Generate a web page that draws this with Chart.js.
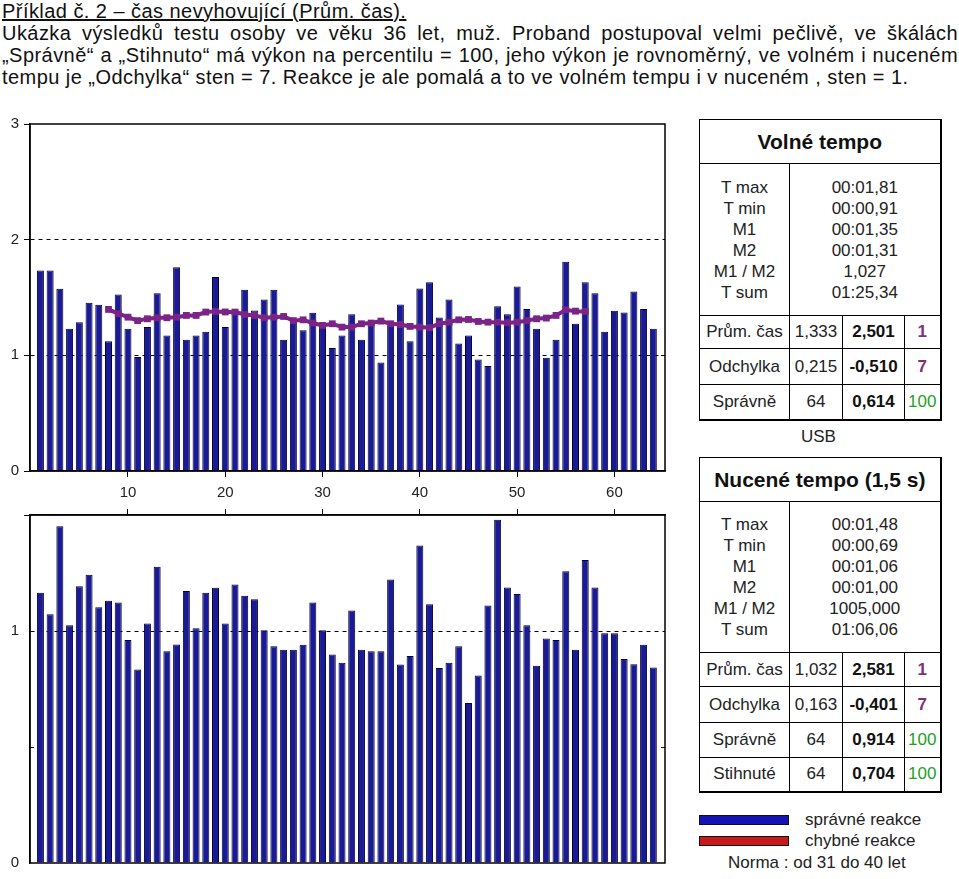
<!DOCTYPE html>
<html lang="cs">
<head>
<meta charset="utf-8">
<script src="https://cdn.jsdelivr.net/npm/chart.js@4/dist/chart.umd.min.js"></script>
<style>
  body { margin: 0; background: #fff; font-family: "Liberation Sans", Arial, sans-serif; color: #111; }
  #page { position: relative; width: 959px; height: 879px; overflow: hidden; }
  #intro { position: absolute; left: 2px; top: 0; width: 956px; font-size: 20px; line-height: 22px; letter-spacing: 0.45px; }
  #intro div { white-space: nowrap; }
  #intro .u { text-decoration: underline; }
  canvas { position: absolute; left: 0; }
  table.res { position: absolute; left: 699px; width: 241px; border-collapse: collapse; table-layout: fixed;
    font-size: 17px; color: #222; border-right: 2px solid #000; border-bottom: 2px solid #000; }
  table.res td { border: 1px solid #000; text-align: center; padding: 0; }
  table.res td.head { font-weight: bold; font-size: 21px; color: #111; }
  table.res td.stats { line-height: 21px; }
  table.res .b { font-weight: bold; color: #111; }
  table.res .st { font-weight: bold; color: #803078; }
  table.res .pc { color: #23a023; }
  .note { position: absolute; font-size: 17px; color: #222; }
  .sw { position: absolute; left: 699px; width: 88px; height: 8px; border: 1px solid #111; }
</style>
</head>
<body>
<div id="page">
  <div id="intro">
    <div class="u">Příklad č. 2 – čas nevyhovující (Prům. čas).</div>
    <div class="just"><span>Ukázka výsledků testu osoby ve věku 36 let, muž. Proband postupoval velmi pečlivě, ve škálách</span></div>
    <div class="just"><span>„Správně“ a „Stihnuto“ má výkon na percentilu = 100, jeho výkon je rovnoměrný, ve volném i nuceném</span></div>
    <div>tempu je „Odchylka“ sten = 7. Reakce je ale pomalá a to ve volném tempu i v nuceném , sten = 1.</div>
  </div>

  <canvas id="free-chart" width="690" height="390" style="top:110px"></canvas>
  <canvas id="forced-chart" width="690" height="379" style="top:500px"></canvas>

  <table class="res" id="free-table" style="top:119px"></table>
  <div class="note" style="left:801px; top:427px;">USB</div>
  <table class="res" id="forced-table" style="top:457px"></table>

  <div class="sw" style="top:815px; background:#1414b4;"></div>
  <div class="sw" style="top:836px; background:#c81a1a;"></div>
  <div class="note" style="left:805px; top:810px;">správné reakce</div>
  <div class="note" style="left:805px; top:831px;">chybné reakce</div>
  <div class="note" style="left:728px; top:853px;">Norma : od 31 do 40 let</div>
</div>

<script>
// reaction times (s), one per trial
const trials = Array.from({ length: 64 }, (_, i) => i + 1);

const freeTimes = [
  1.733, 1.733, 1.575, 1.23, 1.287, 1.454, 1.437, 1.121, 1.526, 1.23,
  0.986, 1.244, 1.537, 1.172, 1.761, 1.135, 1.172, 1.204, 1.678, 1.244,
  1.397, 1.566, 1.388, 1.483, 1.566, 1.135, 1.302, 1.216, 1.368, 1.273,
  1.063, 1.172, 1.356, 1.135, 1.273, 0.937, 1.259, 1.44, 1.121, 1.578,
  1.632, 1.328, 1.483, 1.103, 1.172, 0.963, 0.908, 1.425, 1.356, 1.595,
  1.4, 1.23, 0.98, 1.135, 1.81, 1.273, 1.632, 1.537, 1.204, 1.385,
  1.371, 1.552, 1.4, 1.23,
];

// running average drawn over the free tempo bars (trials 8..57)
const freeTrend = [
  null, null, null, null, null, null, null, 1.397, 1.36, 1.33,
  1.3, 1.316, 1.325, 1.325, 1.33, 1.345, 1.345, 1.374, 1.38, 1.375,
  1.374, 1.353, 1.345, 1.325, 1.33, 1.336, 1.3, 1.307, 1.279, 1.259,
  1.273, 1.244, 1.244, 1.273, 1.279, 1.296, 1.273, 1.267, 1.25, 1.244,
  1.239, 1.273, 1.287, 1.307, 1.31, 1.293, 1.287, 1.287, 1.282, 1.287,
  1.3, 1.316, 1.322, 1.345, 1.394, 1.382, 1.38, null, null, null,
  null, null, null, null,
];

const forcedTimes = [
  1.165, 1.072, 1.452, 1.025, 1.193, 1.242, 1.102, 1.13, 1.123, 0.961,
  0.834, 1.032, 1.277, 0.913, 0.942, 1.172, 1.012, 1.165, 1.186, 1.032,
  1.2, 1.152, 1.137, 1.003, 0.934, 0.919, 0.919, 0.941, 1.123, 1.003,
  0.899, 0.863, 1.088, 0.919, 0.913, 0.913, 1.222, 0.856, 0.892, 1.368,
  1.115, 0.841, 0.863, 0.934, 0.69, 0.808, 1.11, 1.48, 1.188, 1.159,
  1.025, 0.85, 0.968, 0.961, 1.258, 0.919, 1.306, 1.188, 0.99, 0.99,
  0.879, 0.857, 0.941, 0.843,
];

// result tables
const statNames = ["T max", "T min", "M1", "M2", "M1 / M2", "T sum"];
const freeStats = ["00:01,81", "00:00,91", "00:01,35", "00:01,31", "1,027", "01:25,34"];
const forcedStats = ["00:01,48", "00:00,69", "00:01,06", "00:01,00", "1005,000", "01:06,06"];
const freeRows = [
  ["Prům. čas", "1,333", "2,501", "1"],
  ["Odchylka", "0,215", "-0,510", "7"],
  ["Správně", "64", "0,614", "100"],
];
const forcedRows = [
  ["Prům. čas", "1,032", "2,581", "1"],
  ["Odchylka", "0,163", "-0,401", "7"],
  ["Správně", "64", "0,914", "100"],
  ["Stihnuté", "64", "0,704", "100"],
];

// stretch the two justified lines to the full width
document.querySelectorAll("#intro .just").forEach((el) => {
  const span = el.querySelector("span");
  const gaps = span.textContent.split(" ").length - 1;
  const w = span.getBoundingClientRect().width;
  el.style.wordSpacing = `${(956 - w) / gaps}px`;
});

const fillTable = (id, title, stats, rows, heights) => {
  const cls = (v) => (v === "100" ? "pc" : "st");
  let html = `<colgroup><col style="width:90px"><col style="width:53px"><col style="width:62px"><col style="width:36px"></colgroup>`;
  html += `<tr style="height:${heights[0]}px"><td colspan="4" class="head">${title}</td></tr>`;
  html += `<tr style="height:${heights[1]}px"><td class="stats">${statNames.join("<br>")}</td>`;
  html += `<td colspan="3" class="stats">${stats.join("<br>")}</td></tr>`;
  rows.forEach((r, i) => {
    html += `<tr style="height:${heights[i + 2]}px"><td>${r[0]}</td><td>${r[1]}</td>`;
    html += `<td class="b">${r[2]}</td><td class="${cls(r[3])}">${r[3]}</td></tr>`;
  });
  document.getElementById(id).innerHTML = html;
};

fillTable("free-table", "Volné tempo", freeStats, freeRows, [44, 152, 33, 36, 35]);
fillTable("forced-table", "Nucené tempo (1,5 s)", forcedStats, forcedRows, [44, 151, 34, 36, 35, 34]);

const toPoints = (vals) => vals.map((y, i) => ({ x: trials[i], y }));
const tickVal = (c) => (c && c.tick ? c.tick.value : NaN);
const clear = "rgba(0,0,0,0)";

// frame round the plot area plus the small inner ticks
const framePlugin = {
  id: "frame",
  afterDraw: (chart, args, opts) => {
    const { ctx, chartArea: a, scales } = chart;
    ctx.save();
    ctx.strokeStyle = "#000";
    ctx.lineWidth = 1.5;
    ctx.strokeRect(a.left, a.top, a.right - a.left, a.bottom - a.top);
    ctx.lineWidth = 1;
    (opts.innerTicks || []).forEach((v) => {
      const y = Math.round(scales.y.getPixelForValue(v)) + 0.5;
      ctx.beginPath();
      ctx.moveTo(a.left, y);
      ctx.lineTo(a.left + 4, y);
      ctx.moveTo(a.right - 4, y);
      ctx.lineTo(a.right, y);
      ctx.stroke();
    });
    ctx.restore();
  },
};

const isTen = (v) => v > 0 && Math.abs(v % 10) < 1e-6;
const barStyle = {
  backgroundColor: "#1a1a96",
  borderColor: "#000030",
  borderWidth: 1,
  barPercentage: 0.72,
  categoryPercentage: 1.0,
  order: 1,
};
const tickFont = { family: "'Liberation Sans', Arial", size: 15 };

// trial axis, shared by both charts
const trialAxis = (position) => ({
  type: "linear",
  position: position,
  offset: false,
  min: -0.07,
  max: 65.2,
  grid: {
    offset: false,
    drawOnChartArea: false,
    tickLength: 6,
    tickColor: (c) => (isTen(tickVal(c)) ? "#000" : clear),
  },
  border: { color: "#000", width: 1.5 },
  ticks: {
    stepSize: 10,
    includeBounds: false,
    autoSkip: false,
    maxRotation: 0,
    padding: 7,
    color: position === "bottom" ? "#222" : clear,
    font: tickFont,
    callback: (v) => (isTen(v) ? String(v) : ""),
  },
  afterFit: (s) => { s.height = position === "bottom" ? 29 : 15; },
});

const createFreeChart = () => {
  const options = {
    responsive: false,
    animation: false,
    layout: { padding: { top: 13, right: 25, left: 0, bottom: 0 } },
    plugins: {
      legend: { display: false },
      tooltip: { enabled: false },
      frame: { innerTicks: [1] },
    },
    scales: {
      x: trialAxis("bottom"),
      y: {
        min: 0,
        max: 3,
        grid: {
          color: (c) => (tickVal(c) > 0 && tickVal(c) < 3 ? "#000" : clear),
          tickColor: "#000",
          tickLength: 6,
        },
        border: { color: "#000", width: 1.5, dash: [4, 4] },
        ticks: { stepSize: 1, padding: 5, color: "#222", font: tickFont },
        afterFit: (s) => { s.width = 30; },
      },
    },
  };

  return new Chart(document.getElementById("free-chart"), {
    type: "bar",
    data: {
      datasets: [
        {
          type: "line",
          data: toPoints(freeTrend),
          borderColor: "#7b2488",
          backgroundColor: "#7b2488",
          borderWidth: 4,
          pointStyle: "rect",
          pointRadius: 2,
          spanGaps: false,
          order: 0,
        },
        { ...barStyle, data: toPoints(freeTimes) },
      ],
    },
    options: options,
    plugins: [framePlugin],
  });
};

const createForcedChart = () => {
  const options = {
    responsive: false,
    animation: false,
    layout: { padding: { top: 0, right: 25, left: 0, bottom: 16 } },
    plugins: {
      legend: { display: false },
      tooltip: { enabled: false },
      frame: { innerTicks: [0.5] },
    },
    scales: {
      x: trialAxis("top"),
      y: {
        min: 0,
        max: 1.5,
        grid: {
          color: (c) => (tickVal(c) === 1 ? "#000" : clear),
          tickColor: (c) => (tickVal(c) === 1.5 ? "#000" : clear),
          tickLength: 6,
        },
        border: { color: "#000", width: 1.5, dash: [4, 4] },
        ticks: {
          stepSize: 0.5,
          padding: 5,
          color: "#222",
          font: tickFont,
          callback: (v) => (v === 0 || v === 1 ? String(v) : ""),
        },
        afterFit: (s) => { s.width = 30; },
      },
    },
  };

  return new Chart(document.getElementById("forced-chart"), {
    type: "bar",
    data: { datasets: [{ ...barStyle, data: toPoints(forcedTimes) }] },
    options: options,
    plugins: [framePlugin],
  });
};

createFreeChart();
createForcedChart();
</script>
</body>
</html>
